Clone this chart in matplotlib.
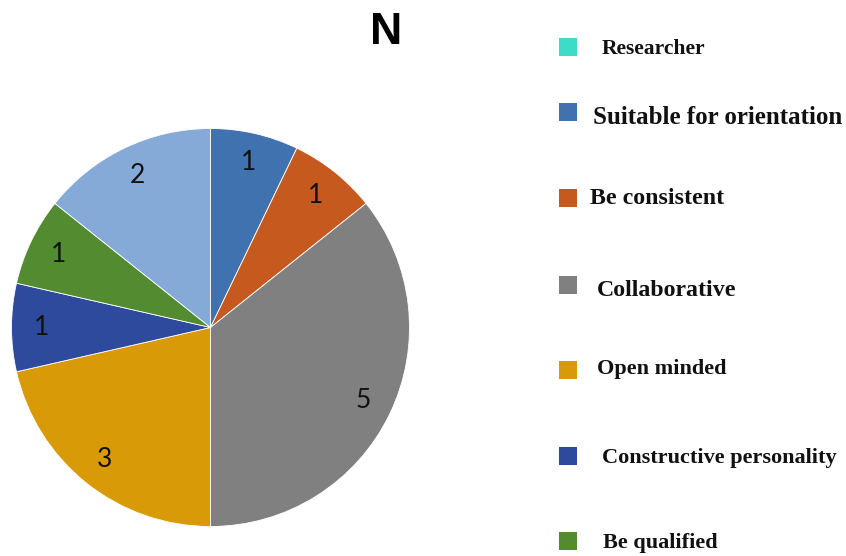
import matplotlib.pyplot as plt

# data
labels = ['Researcher', 'Suitable for orientation', 'Be consistent', 'Collaborative',
          'Open minded', 'Constructive personality', 'Be qualified', '']
values = [0, 1, 1, 5, 3, 1, 1, 2]
colors = ['#3ddcc8', '#3f72ae', '#c65a1e', '#808080',
          '#d99a08', '#2e4a9c', '#538b31', '#86aad8']

# legend layout (pixels, the legend in the image is hand-spaced)
mark_y = [47, 112, 198, 285, 370, 456, 541]
text_y = [49, 118, 198, 290, 369, 458, 543]
leg_tx = [602, 593, 590, 597, 597, 602, 603]
leg_fs = [15.5, 18, 17.2, 17.2, 16, 16, 16]

W, H = 846, 556
fig = plt.figure(figsize=(W / 100, H / 100), dpi=100)

cx, cy, r = 210.5, 327.5, 199
ax = fig.add_axes([(cx - r) / W, (H - cy - r) / H, 2 * r / W, 2 * r / H])


def fmt(pct):
    v = round(pct * sum(values) / 100)
    return str(v) if v > 0 else ''


wedges, texts, autotexts = ax.pie(values, colors=colors, startangle=90, counterclock=False,
                                  autopct=fmt, pctdistance=0.85, radius=1,
                                  wedgeprops=dict(edgecolor='white', linewidth=0.6),
                                  textprops=dict(fontsize=19, family='Lato', color='#111111'))
ax.set_xlim(-1, 1)
ax.set_ylim(-1, 1)
ax.set_aspect('auto')

fig.text(386 / W, 1 - 33 / H, 'N', ha='center', va='center', fontsize=32,
         fontweight='bold', family='Liberation Sans')

# legend
lax = fig.add_axes([0, 0, 1, 1])
lax.set_xlim(0, W)
lax.set_ylim(H, 0)
lax.axis('off')
for i in range(7):
    lax.scatter(568, mark_y[i], marker='s', s=170, color=colors[i], linewidths=0)
    lax.text(leg_tx[i], text_y[i], labels[i], ha='left', va='center', fontsize=leg_fs[i],
             fontweight='bold', family='Liberation Serif', color='#111111')

fig.savefig('out.png', dpi=100)
